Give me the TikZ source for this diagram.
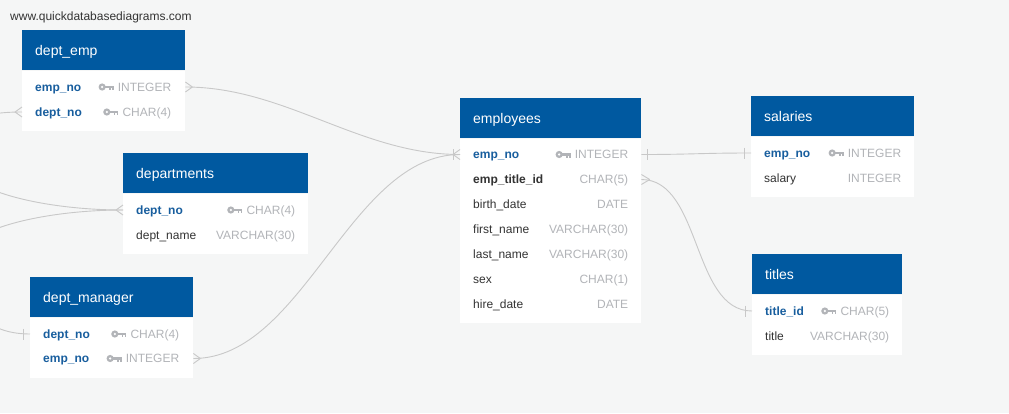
\documentclass[tikz,border=0pt]{standalone}
\usepackage{fontspec}
\setmainfont{Liberation Sans}
\usetikzlibrary{positioning}

\definecolor{bgcol}{RGB}{245,246,246}
\definecolor{hdblue}{RGB}{0,89,160}
\definecolor{pkblue}{RGB}{24,94,158}
\definecolor{fieldgray}{RGB}{51,51,51}
\definecolor{typegray}{RGB}{178,180,184}
\definecolor{linkgray}{RGB}{200,200,200}

\tikzset{
  tblhead/.style={fill=hdblue, text=white, anchor=north west, minimum height=40pt,
    inner xsep=13pt, inner ysep=0pt, align=left, text width=#1,
    font=\fontsize{14}{16}\selectfont, text height=10pt, text depth=0pt},
  tblbody/.style={fill=white, inner sep=0pt, minimum width=#1},
  row/.style={anchor=west, minimum width=#1, minimum height=25pt, inner sep=0pt},
  fname/.style={text=fieldgray, inner sep=0pt, text height=8.6pt, text depth=0pt,
    font=\fontsize{12}{14}\selectfont},
  pkname/.style={fname, text=pkblue, font=\fontsize{12}{14}\selectfont\bfseries},
  fkname/.style={fname, font=\fontsize{12}{14}\selectfont\bfseries},
  ftype/.style={fname, text=typegray},
  link/.style={draw=linkgray, line width=0.9pt},
}

% key symbol left of a type text
\newcommand{\keyicon}[1]{%
  \begin{scope}[shift={(#1)}, xshift=-4pt]
    \fill[typegray] (-11.5,0) circle (3.6pt);
    \fill[white] (-11.5,0) circle (1.3pt);
    \fill[typegray] (-9,-1.5) rectangle (0,1.3);
    \fill[typegray] (-4.5,1.3) rectangle (-3,3.4);
    \fill[typegray] (-1.6,1.3) rectangle (0,3.4);
  \end{scope}}
% many / one ends of a link
\newcommand{\crowfoot}[2]{%
  \draw[link] ([xshift=#2*7pt]#1) -- ([yshift=5pt]#1)
              ([xshift=#2*7pt]#1) -- ([yshift=-5pt]#1);}
\newcommand{\onebar}[2]{%
  \draw[link] ([xshift=#2*6.5pt,yshift=5.5pt]#1) -- ([xshift=#2*6.5pt,yshift=-5.5pt]#1);}

\begin{document}
\begin{tikzpicture}[x=1pt,y=-1pt]
\useasboundingbox (0,0) rectangle (1009,413);
\fill[bgcol] (0,0) rectangle (1009,413);
\node[fname, anchor=west] (site) at (10,16) {www.quickdatabasediagrams.com};

% dept_emp
\node[tblhead=137pt] (deptemp) at (22,30) {dept\_emp};
\node[tblbody=163pt, minimum height=60pt, below=0pt of deptemp] (deptemp body) {};
\node[row=163pt] (de-empno) at (22,87) {};
\node[pkname, right=13pt of de-empno.west] {emp\_no};
\node[ftype, left=14pt of de-empno.east] (de-empno-t) {INTEGER};
\keyicon{de-empno-t.west}
\node[row=163pt] (de-deptno) at (22,112) {};
\node[pkname, right=13pt of de-deptno.west] {dept\_no};
\node[ftype, left=14pt of de-deptno.east] (de-deptno-t) {CHAR(4)};
\keyicon{de-deptno-t.west}

% departments
\node[tblhead=159pt] (depts) at (123,153) {departments};
\node[tblbody=185pt, minimum height=60pt, below=0pt of depts] (depts body) {};
\node[row=185pt] (dp-deptno) at (123,210) {};
\node[pkname, right=13pt of dp-deptno.west] {dept\_no};
\node[ftype, left=13pt of dp-deptno.east] (dp-deptno-t) {CHAR(4)};
\keyicon{dp-deptno-t.west}
\node[row=185pt] (dp-name) at (123,235) {};
\node[fname, right=13pt of dp-name.west] {dept\_name};
\node[ftype, left=13pt of dp-name.east] {VARCHAR(30)};

% dept_manager
\node[tblhead=137pt] (deptmgr) at (30,277) {dept\_manager};
\node[tblbody=163pt, minimum height=60pt, below=0pt of deptmgr] (deptmgr body) {};
\node[row=163pt] (dm-deptno) at (30,334) {};
\node[pkname, right=13pt of dm-deptno.west] {dept\_no};
\node[ftype, left=14pt of dm-deptno.east] (dm-deptno-t) {CHAR(4)};
\keyicon{dm-deptno-t.west}
\node[row=163pt] (dm-empno) at (30,358.5) {};
\node[pkname, right=13pt of dm-empno.west] {emp\_no};
\node[ftype, left=14pt of dm-empno.east] (dm-empno-t) {INTEGER};
\keyicon{dm-empno-t.west}

% employees
\node[tblhead=155pt] (emps) at (460,98) {employees};
\node[tblbody=181pt, minimum height=184pt, below=0pt of emps] (emps body) {};
\node[row=181pt] (emp-empno) at (460,154.5) {};
\node[pkname, right=13pt of emp-empno.west] {emp\_no};
\node[ftype, left=13pt of emp-empno.east] (emp-empno-t) {INTEGER};
\keyicon{emp-empno-t.west}
\node[row=181pt] (emp-titleid) at (460,179.5) {};
\node[fkname, right=13pt of emp-titleid.west] {emp\_title\_id};
\node[ftype, left=13pt of emp-titleid.east] {CHAR(5)};
\foreach \fld/\typ [count=\i from 2] in {birth\_date/DATE, first\_name/VARCHAR(30),
    last\_name/VARCHAR(30), sex/CHAR(1), hire\_date/DATE}{
  \node[row=181pt] (emp-row\i) at (460,{154.5+25*\i}) {};
  \node[fname, right=13pt of emp-row\i.west] {\fld};
  \node[ftype, left=13pt of emp-row\i.east] {\typ};
}

% salaries
\node[tblhead=137pt] (sals) at (751,96) {salaries};
\node[tblbody=163pt, minimum height=60pt, below=0pt of sals] (sals body) {};
\node[row=163pt] (sal-empno) at (751,153) {};
\node[pkname, right=13pt of sal-empno.west] {emp\_no};
\node[ftype, left=13pt of sal-empno.east] (sal-empno-t) {INTEGER};
\keyicon{sal-empno-t.west}
\node[row=163pt] (sal-salary) at (751,178) {};
\node[fname, right=13pt of sal-salary.west] {salary};
\node[ftype, left=13pt of sal-salary.east] {INTEGER};

% titles
\node[tblhead=124pt] (titles) at (752,254) {titles};
\node[tblbody=150pt, minimum height=60pt, below=0pt of titles] (titles body) {};
\node[row=150pt] (ti-titleid) at (752,311) {};
\node[pkname, right=13pt of ti-titleid.west] {title\_id};
\node[ftype, left=13pt of ti-titleid.east] (ti-titleid-t) {CHAR(5)};
\keyicon{ti-titleid-t.west}
\node[row=150pt] (ti-title) at (752,336) {};
\node[fname, right=13pt of ti-title.west] {title};
\node[ftype, left=13pt of ti-title.east] {VARCHAR(30)};

% links
\begin{scope}
\clip (0,0) rectangle (1009,413);
\draw[link] (de-empno.east) .. controls +(100,0) and +(-100,0) .. (emp-empno.west);
\draw[link] (dm-empno.east) .. controls +(110,0) and +(-110,0) .. (emp-empno.west);
\draw[link] (emp-empno.east) .. controls +(50,0) and +(-50,0) .. (sal-empno.west);
\draw[link] (emp-titleid.east) .. controls +(60,0) and +(-60,0) .. (ti-titleid.west);
\draw[link] (de-deptno.west) .. controls +(-60,0) and (-40,130) .. (-40,160)
  .. controls (-40,190) and +(-80,0) .. (dp-deptno.west);
\draw[link] (dp-deptno.west) .. controls +(-80,0) and (-40,230) .. (-40,260)
  .. controls (-40,300) and +(-50,0) .. (dm-deptno.west);
\end{scope}
% link ends
\crowfoot{de-empno.east}{1}
\crowfoot{emp-empno.west}{-1}
\onebar{emp-empno.west}{-1.08}
\crowfoot{de-deptno.west}{-1}
\crowfoot{dp-deptno.west}{-1}
\onebar{dm-deptno.west}{-1}
\crowfoot{dm-empno.east}{1}
\onebar{emp-empno.east}{1}
\onebar{sal-empno.west}{-1}
\crowfoot{emp-titleid.east}{1.2}
\onebar{ti-titleid.west}{-1}
\end{tikzpicture}
\end{document}
